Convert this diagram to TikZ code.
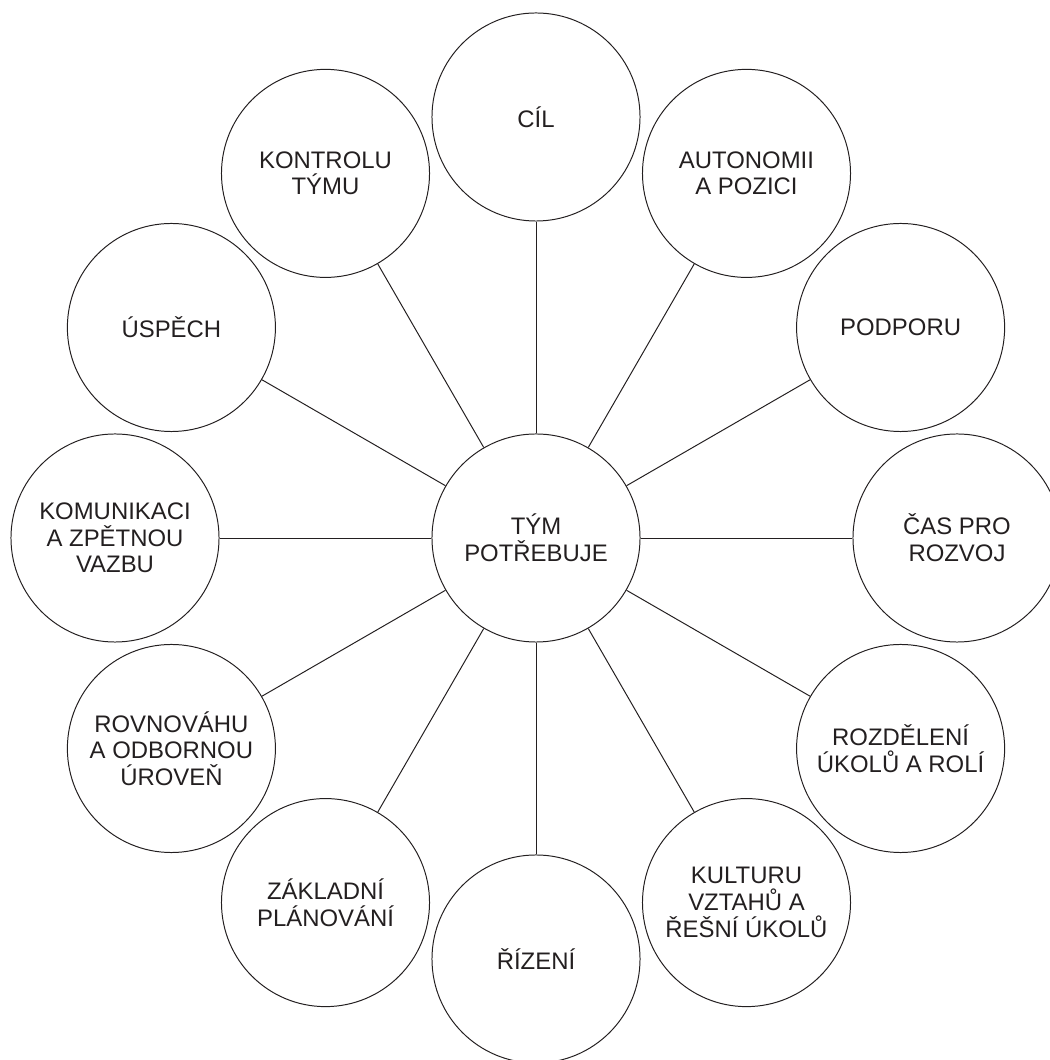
\documentclass[tikz,border=0pt]{standalone}
\usepackage{fontspec}
\setmainfont{Liberation Sans}
\definecolor{ink}{HTML}{231F20}
\begin{document}
\begin{tikzpicture}[x=0.025cm,y=0.025cm,
  bubble/.style={circle, draw=ink, line width=0.7pt, minimum size=5.2cm,
    inner sep=0pt, align=center, text=ink,
    font=\fontsize{17}{19}\selectfont},
  spoke/.style={draw=ink, line width=0.7pt}]
\useasboundingbox (0,0) rectangle (1050,1060);
\clip (0,0) rectangle (1050,1060);
% central hub
\node[bubble] (hub) at (536,522) {TÝM\\POTŘEBUJE};
% twelve satellites, clockwise from the top, each tied to the hub
\foreach \lbl [count=\i from 0] in {
    {CÍL},
    {AUTONOMII\\A POZICI},
    {PODPORU},
    {ČAS PRO\\ROZVOJ},
    {ROZDĚLENÍ\\ÚKOLŮ A ROLÍ},
    {KULTURU\\VZTAHŮ A\\ŘEŠNÍ ÚKOLŮ},
    {ŘÍZENÍ},
    {ZÁKLADNÍ\\PLÁNOVÁNÍ},
    {ROVNOVÁHU\\A ODBORNOU\\ÚROVEŇ},
    {KOMUNIKACI\\A ZPĚTNOU\\VAZBU},
    {ÚSPĚCH},
    {KONTROLU\\TÝMU}} {
  \node[bubble] (sat\i) at ([shift={({90-30*\i}:421)}]536,522) {\lbl};
  \draw[spoke] (hub) -- (sat\i);
}
\end{tikzpicture}
\end{document}
